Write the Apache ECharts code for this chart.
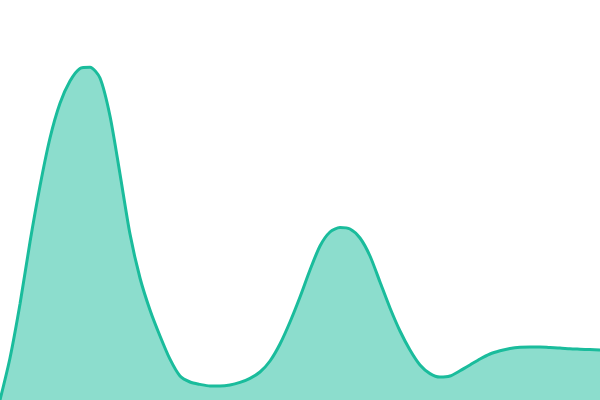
<!DOCTYPE html>
<html>
<head>
<meta charset="utf-8">
<script src="https://cdn.jsdelivr.net/npm/echarts@6/dist/echarts.min.js"></script>
<style>
  html, body { margin: 0; padding: 0; background: #fff; }
  #chart { width: 600px; height: 400px; }
</style>
</head>
<body>
<div id="chart"></div>
<script>
// Curve at even steps along x
const xs = [
    0, 10, 20, 30, 40, 50, 60, 70, 80, 90,
    100, 110, 120, 130, 140, 150, 160, 170, 180, 190,
    200, 210, 220, 230, 240, 250, 260, 270, 280, 290,
    300, 310, 320, 330, 340, 350, 360, 370, 380, 390,
    400, 410, 420, 430, 440, 450, 460, 470, 480, 490,
    500, 510, 520, 530, 540, 550, 560, 570, 580, 590, 600
];
const ys = [
    0, 10.5, 24, 39.5, 53.5, 65.5, 74.2, 79.75, 82.9, 83.2,
    80.5, 71, 56.5, 41.5, 30.5, 22.5, 16, 10.2, 6, 4.5,
    3.9, 3.5, 3.5, 3.75, 4.4, 5.4, 7, 9.75, 14, 19.5,
    25.75, 32.5, 38.5, 42, 43.1, 42.75, 40.5, 36, 29.5, 23,
    17.25, 12.5, 8.75, 6.6, 5.75, 6, 7.3, 8.75, 10.25, 11.5,
    12.3, 12.9, 13.2, 13.25, 13.25, 13.1, 13, 12.8, 12.7, 12.6, 12.5
];

const chart = echarts.init(document.getElementById('chart'));
chart.setOption({
    animation: false,
    grid: {left: 0, right: 0, top: 0, bottom: 0},
    xAxis: {
        type: 'value',
        min: 0,
        max: 600,
        show: false
    },
    yAxis: {
        type: 'value',
        min: 0,
        max: 100,
        show: false
    },
    series: [{
        type: 'line',
        data: xs.map((x, i) => [x, ys[i]]),
        smooth: 0.25,
        symbol: 'none',
        lineStyle: {color: '#1abc9c', width: 3},
        areaStyle: {color: '#1abc9c', opacity: 0.5}
    }]
});
</script>
</body>
</html>
